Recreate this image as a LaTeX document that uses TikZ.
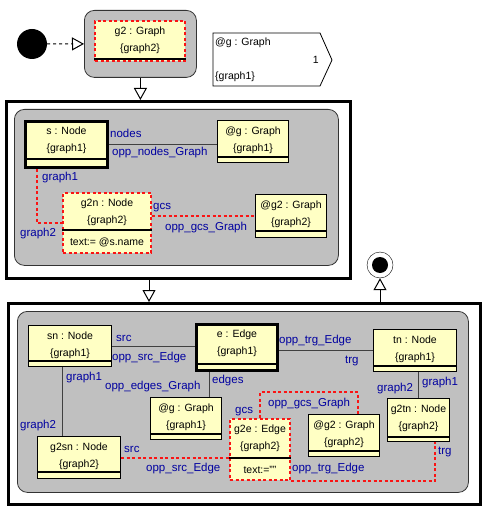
\documentclass[tikz,border=0pt]{standalone}
\usepackage{fontspec}
\setmainfont{Liberation Sans}
\usetikzlibrary{arrows.meta,positioning}

\definecolor{objyellow}{RGB}{255,255,196}
\definecolor{actgray}{RGB}{192,192,192}
\definecolor{roleblue}{RGB}{0,0,160}
\definecolor{newred}{RGB}{250,20,20}

% object box: [style]{name}{top left}{width}{height}{title}{compartment}{attribute}
\newcommand\umlobj[8][obj]{%
  \node[#1,minimum width=#4,minimum height=#5,anchor=north west] (#2) at (#3) {};
  \node[objtext,below=6.5pt of #2.north] (#2-t) {#6};
  \draw[sepline] ([yshift=#7]#2.south west) -- ([yshift=#7]#2.south east);
  \node[objtext] (#2-a) at ([yshift=#7/2]#2.south) {#8};
}

\begin{document}
\begin{tikzpicture}[x=1pt,y=-1pt,
  obj/.style={draw=black,line width=1pt,fill=objyellow,inner sep=0},
  boldobj/.style={obj,line width=3pt},
  newobj/.style={obj,draw=newred,line width=2pt,dash pattern=on 3pt off 2.5pt},
  sepline/.style={black,line width=1.6pt},
  objtext/.style={inner sep=0,align=center,font=\fontsize{10.5}{17}\selectfont},
  role/.style={text=roleblue,inner sep=0,anchor=west,font=\fontsize{11.5}{13}\selectfont},
  link/.style={black!75,line width=1pt},
  newlink/.style={newred,line width=2pt,dash pattern=on 3pt off 2.5pt},
  outerbox/.style={draw,line width=3pt,inner sep=0,anchor=north west},
  activity/.style={draw=black!80,fill=actgray,line width=0.8pt,rounded corners=10pt,inner sep=0,anchor=north west},
  flow/.style={line width=1pt,-{Triangle[open,length=12pt,width=13pt]}},
  startstate/.style={circle,fill=black,minimum size=30,inner sep=0},
  endstate/.style={circle,draw,fill=white,minimum size=26,inner sep=0}]
\useasboundingbox (0,0) rectangle (486,513);

% first activity
\node[startstate] (start) at (32,44) {};
\node[activity,minimum width=112,minimum height=67] (act1) at (84,10) {};
\umlobj[newobj]{g2}{94,20}{90}{40}{g2 : Graph\\\{graph2\}}{3pt}{}
\draw[flow,dashed] (start) -- (act1.west);

% iteration
\draw[line width=0.8pt,fill=white] (213,33) -- (320,33) -- (332,60) -- (320,86) -- (213,86) -- cycle;
\node[objtext,anchor=west] (it-t) at (215,43) {@g : Graph};
\node[objtext,anchor=east] (it-n) at (319,60) {1};
\node[objtext,anchor=west] (it-d) at (215,77) {\{graph1\}};

% copy the nodes
\node[outerbox,minimum width=344,minimum height=177] (frame2) at (5,100) {};
\node[activity,minimum width=324,minimum height=156] (act2) at (14,109) {};
\umlobj[boldobj]{s}{24,120}{82}{46}{s : Node\\\{graph1\}}{10pt}{}
\umlobj{g1}{217,120}{71}{42}{@g : Graph\\\{graph1\}}{6pt}{}
\umlobj[newobj]{g2n}{62,192}{88}{60}{g2n : Node\\\{graph2\}}{24pt}{text:= @s.name}
\umlobj{g2a}{255,194}{71}{43}{@g2 : Graph\\\{graph2\}}{7pt}{}
\draw[link] (s.east) -- (s.east -| g1.west);
\draw[newlink] ([xshift=13pt]s.south west) |- (g2n.west);
\draw[newlink] (g2n.east |- g2a.west) -- (g2a.west);
\draw[flow] (act1.south) -- (act1.south |- frame2.north);

% copy the edges
\node[endstate] (final) at (380,265) {};
\fill (final.center) circle (8);
\node[outerbox,minimum width=472,minimum height=201] (frame3) at (7,302) {};
\node[activity,minimum width=451,minimum height=181] (act3) at (17,311) {};
\draw[flow] ([xshift=144pt]frame2.south west) -- ([xshift=144pt]frame2.south west |- frame3.north);
\draw[flow] (final.south |- frame3.north) -- (final.south);
\umlobj{sn}{28,325}{83}{41}{sn : Node\\\{graph1\}}{6pt}{}
\umlobj[boldobj]{e}{195,323}{81}{46}{e : Edge\\\{graph1\}}{8pt}{}
\umlobj{tn}{373,329}{83}{42}{tn : Node\\\{graph1\}}{6pt}{}
\umlobj{g2sn}{37,436}{83}{42}{g2sn : Node\\\{graph2\}}{7pt}{}
\umlobj{g3}{150,397}{71}{42}{@g : Graph\\\{graph1\}}{6pt}{}
\umlobj[newobj]{g2e}{229,418}{60}{61}{g2e : Edge\\\{graph2\}}{23pt}{text:=""}
\umlobj{g2b}{308,414}{71}{42}{@g2 : Graph\\\{graph2\}}{6pt}{}
\umlobj{g2tn}{387,398}{62}{43}{g2tn : Node\\\{graph2\}}{5pt}{}
\draw[link] (sn.east) -- (sn.east -| e.west);
\draw[link] (tn.west -| e.east) -- (tn.west);
\draw[link] ([xshift=34pt]sn.south west) -- ([xshift=34pt]sn.south west |- g2sn.north);
\draw[link] ([xshift=14pt]e.south west) -- ([xshift=14pt]e.south west |- g3.north);
\draw[link] (g2tn.north |- tn.south) -- (g2tn.north);
\draw[newlink] (g2sn.east) -- (g2sn.east -| g2e.west);
\draw[newlink] (g2e.north) -- (g2e.north |- 0,392) -| ([xshift=50pt]g2b.north west);
\draw[newlink] (g2e.south east) -| ([xshift=48pt]g2tn.south west);

% role names
\foreach \nm/\pos/\txt in {%
  nodes/{110,133}/nodes, oppnodes/{112,153}/opp\_nodes\_Graph,
  sg1/{42,178}/graph1, sg2/{20,234}/graph2,
  gcs1/{153,208}/gcs, oppgcs1/{165,228}/opp\_gcs\_Graph,
  src/{116,338}/src, oppsrc/{112,358}/opp\_src\_Edge,
  opptrg/{279,341}/opp\_trg\_Edge, trg/{345,361}/trg,
  sng1/{66,378}/graph1, sng2/{20,426}/graph2,
  edges/{212,381}/edges, oppedges/{105,387}/opp\_edges\_Graph,
  tng2/{377,389}/graph2, tng1/{422,383}/graph1,
  gcs2/{235,412}/gcs, oppgcs2/{268,404}/opp\_gcs\_Graph,
  src2/{124,449}/src, oppsrc2/{146,469}/opp\_src\_Edge,
  opptrg2/{292,469}/opp\_trg\_Edge, trg2/{438,452}/trg} {
  \node[role] (r-\nm) at (\pos) {\txt};
}
\end{tikzpicture}
\end{document}
